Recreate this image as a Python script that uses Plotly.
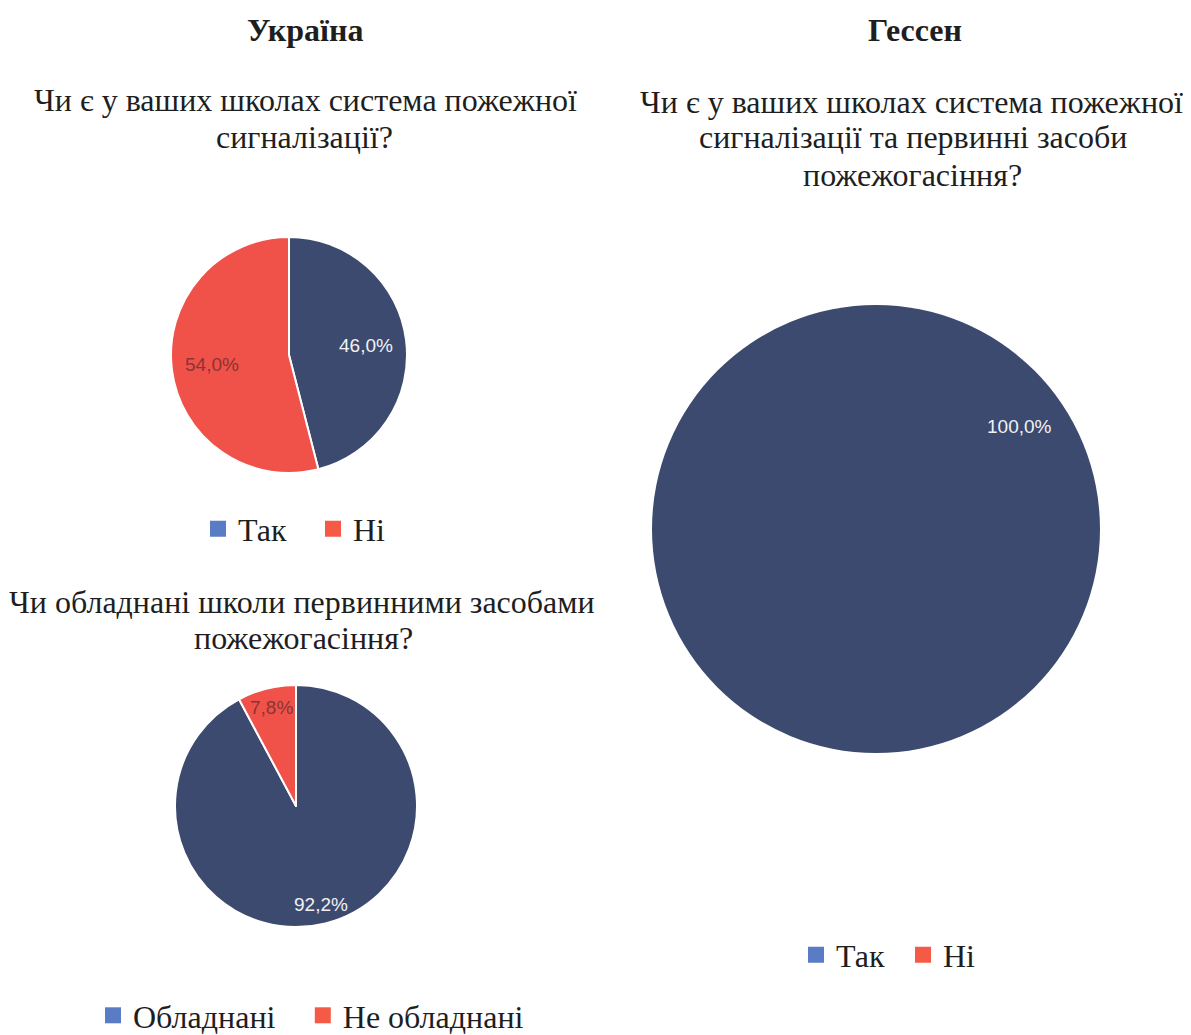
import math
import plotly.graph_objects as go

# ---- data ----
titles = ["Україна", "Гессен"]
q1_lines = ["Чи є у ваших школах система пожежної", "сигналізації?"]
q2_lines = ["Чи обладнані школи первинними засобами", "пожежогасіння?"]
q3_lines = ["Чи є у ваших школах система пожежної", "сигналізації та первинні засоби", "пожежогасіння?"]

labels1 = ["Так", "Ні"]
values1 = [46.0, 54.0]
labels2 = ["Обладнані", "Не обладнані"]
values2 = [92.2, 7.8]
labels3 = ["Так", "Ні"]
values3 = [100.0, 0.0]

NAVY = "#3b4a6e"
RED = "#f0524a"
LEG_BLUE = "#5a7cc4"
LEG_RED = "#f45a45"
WHITE_TXT = "#f2f2f2"
RED_TXT = "#8a3434"
TXT = "#1e1e1e"
SERIF = "Liberation Serif, Times New Roman, serif"
SANS = "Liberation Sans, Arial, sans-serif"

W, H = 1191, 1035
OFF = 8  # page body margin


def X(px):
    return (px - OFF) / W


def Y(py):
    return 1 - (py - OFF) / H


fig = go.Figure()
annotations = []


def add_text(text, cx, cy, size=32, bold=False, family=SERIF, color=TXT):
    annotations.append(dict(
        xref="paper", yref="paper", xanchor="center", yanchor="middle",
        showarrow=False, align="center", x=X(cx), y=Y(cy),
        text=("<b>%s</b>" % text) if bold else text,
        font=dict(family=family, size=size, color=color)))


def fmt_pct(v, total):
    return ("%.1f%%" % (v / total * 100)).replace(".", ",")


def add_pie(labels, values, center, radius, label_frac=None, label_pos=None):
    cx, cy = center
    fig.add_trace(go.Pie(
        labels=labels, values=values, sort=False, direction="clockwise",
        rotation=0,
        marker=dict(colors=[NAVY, RED],
                    line=dict(color="white", width=2 if label_frac else 0)),
        textinfo="none",
        domain=dict(x=[X(cx - radius), X(cx + radius)],
                    y=[Y(cy + radius), Y(cy - radius)]),
        showlegend=False, hoverinfo="label+percent"))
    total = sum(values)
    colors = [WHITE_TXT, RED_TXT]
    if label_pos is not None:
        # full-circle pie: label where the source puts it
        add_text(fmt_pct(values[0], total), label_pos[0], label_pos[1],
                 size=19, family=SANS, color=colors[0])
        return
    start = 0.0
    for v, col in zip(values, colors):
        ang = start + v / total * 180.0
        start += v / total * 360.0
        if v <= 0:
            continue
        th = math.radians(ang)
        lx = cx + label_frac * radius * math.sin(th)
        ly = cy - label_frac * radius * math.cos(th)
        add_text(fmt_pct(v, total), lx, ly, size=19, family=SANS, color=col)


add_pie(labels1, values1, (289, 355), 118, label_frac=0.66)
add_pie(labels2, values2, (296, 806), 121, label_frac=0.84)
add_pie(labels3, values3, (876, 529), 224, label_pos=(1019, 426))

# legend entries (legend colours differ from slice colours in the source)
legend_specs = [("legend", labels1, 198, 529, 70),
                ("legend2", labels2, 93, None, 0),
                ("legend3", labels3, 796, 955, 62)]
for legend_id, labs, _, _, _ in legend_specs:
    for i, (lab, col) in enumerate(zip(labs, [LEG_BLUE, LEG_RED])):
        name = lab
        if legend_id == "legend2" and i == 0:
            name = lab + "\u00a0\u00a0\u2009"
        fig.add_trace(go.Scatter(x=[None], y=[None], mode="markers", name=name,
                                 marker=dict(symbol="square", size=16, color=col),
                                 legend=legend_id, showlegend=True))

for legend_id, _, lx, ly, ew in legend_specs:
    spec = dict(
        orientation="h", font=dict(family=SERIF, size=32, color=TXT),
        bgcolor="rgba(0,0,0,0)", xanchor="left",
        itemwidth=30, tracegroupgap=0, x=X(lx))
    if ew:
        spec.update(entrywidth=ew, entrywidthmode="pixels")
    if ly is None:
        spec.update(y=0, yanchor="bottom")
    else:
        spec.update(y=Y(ly), yanchor="middle")
    fig.update_layout({legend_id: spec})

add_text(titles[0], 305, 30, size=32, bold=True)
add_text(titles[1], 915, 30, size=32, bold=True)
for line, cx, cy in zip(q1_lines, [305, 304], [100, 137]):
    add_text(line, cx, cy)
for line, cx, cy in zip(q2_lines, [302, 303], [602, 638]):
    add_text(line, cx, cy)
for line, cx, cy in zip(q3_lines, [911, 913, 912], [102, 137, 175]):
    add_text(line, cx, cy)

fig.update_layout(
    width=W, height=H, margin=dict(l=0, r=0, t=0, b=0),
    paper_bgcolor="white", plot_bgcolor="white",
    separators=", ",
    annotations=annotations,
    xaxis=dict(visible=False), yaxis=dict(visible=False),
)

fig.write_html("out.html")
